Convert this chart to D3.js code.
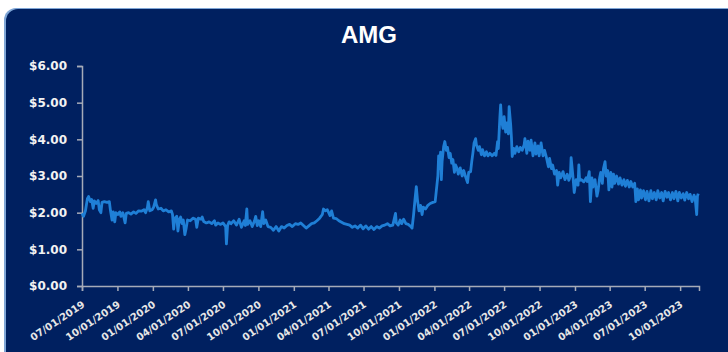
<!DOCTYPE html>
<html><head><meta charset="utf-8">
<script src="https://cdn.jsdelivr.net/npm/d3@7"></script>
<style>
html,body{margin:0;padding:0;background:#fff;}
svg{display:block;}
</style></head>
<body>
<svg id="chart" width="728" height="352"></svg>
<script>
const title = "AMG";
const dates = [
"2019-07-01","2019-07-05","2019-07-10","2019-07-15","2019-07-18","2019-07-23","2019-07-26","2019-07-30",
"2019-08-02","2019-08-07","2019-08-12","2019-08-15","2019-08-19","2019-08-22","2019-08-28",
"2019-09-04","2019-09-10","2019-09-13","2019-09-17","2019-09-20","2019-09-24","2019-09-27",
"2019-10-02","2019-10-07","2019-10-10","2019-10-15","2019-10-21","2019-10-24","2019-10-30",
"2019-11-05","2019-11-12","2019-11-18","2019-11-25",
"2019-12-02","2019-12-09","2019-12-13","2019-12-18","2019-12-20","2019-12-24","2019-12-30",
"2020-01-03","2020-01-08","2020-01-10","2020-01-15","2020-01-22","2020-01-28",
"2020-02-04","2020-02-11","2020-02-18","2020-02-21","2020-02-24","2020-02-27",
"2020-03-03","2020-03-06","2020-03-10","2020-03-13","2020-03-17","2020-03-20","2020-03-24","2020-03-27","2020-03-31",
"2020-04-07","2020-04-14","2020-04-21","2020-04-24","2020-04-28",
"2020-05-05","2020-05-08","2020-05-12","2020-05-19","2020-05-26",
"2020-06-02","2020-06-09","2020-06-12","2020-06-18","2020-06-25",
"2020-07-01","2020-07-08","2020-07-10","2020-07-13","2020-07-17","2020-07-22","2020-07-29",
"2020-08-05","2020-08-12","2020-08-18","2020-08-25","2020-08-28",
"2020-09-01","2020-09-03","2020-09-09","2020-09-15","2020-09-21","2020-09-24","2020-09-28",
"2020-10-02","2020-10-07","2020-10-12","2020-10-15","2020-10-20","2020-10-26",
"2020-11-02","2020-11-09","2020-11-16","2020-11-23","2020-11-30",
"2020-12-07","2020-12-14","2020-12-21","2020-12-28",
"2021-01-05","2021-01-12","2021-01-19","2021-01-26",
"2021-02-02","2021-02-09","2021-02-16","2021-02-23",
"2021-03-02","2021-03-09","2021-03-16","2021-03-19","2021-03-24","2021-03-29",
"2021-04-05","2021-04-09","2021-04-14","2021-04-21","2021-04-28",
"2021-05-05","2021-05-12","2021-05-19","2021-05-26",
"2021-06-02","2021-06-09","2021-06-16","2021-06-23","2021-06-30",
"2021-07-07","2021-07-14","2021-07-21","2021-07-28",
"2021-08-04","2021-08-11","2021-08-18","2021-08-25",
"2021-09-01","2021-09-08","2021-09-15","2021-09-22","2021-09-24","2021-09-29",
"2021-10-04","2021-10-08","2021-10-13","2021-10-19","2021-10-25",
"2021-11-01","2021-11-04","2021-11-08","2021-11-12","2021-11-15","2021-11-18","2021-11-22","2021-11-26","2021-11-30",
"2021-12-03","2021-12-09","2021-12-15","2021-12-21","2021-12-28",
"2022-01-03","2022-01-06","2022-01-10","2022-01-12","2022-01-14","2022-01-17","2022-01-19","2022-01-21","2022-01-25","2022-01-28",
"2022-02-01","2022-02-04","2022-02-08","2022-02-11","2022-02-15","2022-02-18","2022-02-22","2022-02-25",
"2022-03-01","2022-03-04","2022-03-09","2022-03-14","2022-03-18","2022-03-23","2022-03-28","2022-03-31",
"2022-04-05","2022-04-08","2022-04-11","2022-04-14","2022-04-18","2022-04-20","2022-04-25","2022-04-28",
"2022-05-03","2022-05-06","2022-05-11","2022-05-16","2022-05-20","2022-05-25","2022-05-31",
"2022-06-06","2022-06-10","2022-06-14","2022-06-16","2022-06-20","2022-06-22","2022-06-24","2022-06-28",
"2022-07-01","2022-07-05","2022-07-08","2022-07-12","2022-07-14","2022-07-18","2022-07-20","2022-07-22","2022-07-26","2022-07-29",
"2022-08-03","2022-08-08","2022-08-12","2022-08-17","2022-08-22","2022-08-24","2022-08-29",
"2022-09-01","2022-09-06","2022-09-09","2022-09-14","2022-09-19","2022-09-22","2022-09-27","2022-09-30",
"2022-10-05","2022-10-10","2022-10-14","2022-10-19","2022-10-24","2022-10-27",
"2022-11-01","2022-11-04","2022-11-09","2022-11-14","2022-11-17","2022-11-21","2022-11-25",
"2022-12-01","2022-12-06","2022-12-12","2022-12-16","2022-12-20","2022-12-22","2022-12-27","2022-12-30",
"2023-01-04","2023-01-09","2023-01-11","2023-01-13","2023-01-18","2023-01-24","2023-01-30",
"2023-02-02","2023-02-07","2023-02-10","2023-02-14","2023-02-17","2023-02-22","2023-02-27",
"2023-03-02","2023-03-06","2023-03-09","2023-03-13","2023-03-16","2023-03-20","2023-03-23","2023-03-27","2023-03-30",
"2023-04-04","2023-04-07","2023-04-11","2023-04-14","2023-04-19","2023-04-24","2023-04-28",
"2023-05-03","2023-05-08","2023-05-12","2023-05-17","2023-05-22","2023-05-26","2023-05-31",
"2023-06-05","2023-06-08","2023-06-12","2023-06-15","2023-06-20","2023-06-23","2023-06-28",
"2023-07-03","2023-07-07","2023-07-12","2023-07-17","2023-07-21","2023-07-26","2023-07-31",
"2023-08-04","2023-08-09","2023-08-14","2023-08-18","2023-08-23","2023-08-28",
"2023-09-01","2023-09-06","2023-09-11","2023-09-15","2023-09-20","2023-09-25","2023-09-29",
"2023-10-04","2023-10-09","2023-10-13","2023-10-18","2023-10-23","2023-10-27",
"2023-11-01","2023-11-06","2023-11-09","2023-11-13","2023-11-15","2023-11-17"
];
const prices = [
1.98,1.90,2.05,2.38,2.44,2.30,2.36,2.12,
2.32,2.25,2.33,2.08,2.00,2.28,2.30,
2.28,2.30,2.05,1.80,2.02,1.75,2.00,
1.95,2.02,1.90,2.00,1.72,1.98,2.00,
1.96,2.02,1.98,2.05,
2.04,2.08,2.00,2.15,2.30,2.05,2.08,
2.15,2.35,2.22,2.10,2.12,2.05,
2.08,2.02,2.05,1.95,1.55,1.85,
1.90,1.50,1.82,1.88,1.70,1.80,1.40,1.55,1.80,
1.78,1.85,1.82,1.60,1.85,
1.82,1.88,1.76,1.72,1.75,
1.70,1.78,1.66,1.72,1.68,
1.72,1.62,1.15,1.65,1.75,1.70,1.78,
1.66,1.82,1.60,1.78,1.65,
2.10,1.68,1.78,1.62,1.78,1.90,1.65,
1.78,1.62,2.03,1.70,1.80,1.62,
1.60,1.52,1.62,1.50,1.62,
1.58,1.65,1.68,1.62,
1.70,1.68,1.72,1.65,
1.58,1.64,1.70,1.72,
1.78,1.85,1.95,2.10,2.05,2.08,
1.92,2.05,1.85,1.84,1.78,
1.74,1.70,1.68,1.66,
1.60,1.64,1.58,1.66,1.56,
1.64,1.55,1.62,1.54,
1.62,1.58,1.64,1.66,
1.70,1.64,1.66,1.98,1.72,1.66,
1.80,1.70,1.82,1.70,1.68,
1.62,1.58,1.95,2.40,2.71,2.35,2.05,2.20,1.95,
2.15,2.10,2.20,2.25,2.28,
2.30,2.60,3.00,3.55,3.20,3.65,2.90,3.40,3.80,3.94,
3.70,3.78,3.50,3.62,3.35,3.45,3.10,3.30,
3.20,3.05,3.22,3.00,3.15,2.98,2.82,3.10,
3.12,3.40,3.63,3.90,4.02,3.85,3.70,3.80,
3.58,3.72,3.55,3.66,3.55,3.62,3.55,
3.62,3.56,3.94,3.75,4.60,4.94,4.55,4.30,
4.62,4.20,4.45,4.15,4.89,4.40,4.05,3.53,3.75,3.62,
3.80,3.66,3.78,3.70,3.85,4.02,3.62,
3.95,3.70,3.98,3.55,3.90,3.60,3.82,3.55,
3.90,3.55,3.70,3.50,3.25,3.48,
3.20,3.30,3.05,3.15,2.75,3.10,2.95,
3.12,2.90,3.05,2.88,3.00,3.50,2.95,2.55,
2.90,2.75,3.30,2.88,2.90,2.84,2.95,
2.85,3.12,2.30,2.95,2.70,2.90,2.45,
2.60,2.95,3.10,2.80,3.20,3.39,3.00,3.15,2.62,
3.10,2.70,3.05,2.80,3.00,2.78,2.95,
2.75,2.90,2.72,2.88,2.70,2.85,2.70,
2.80,2.30,2.65,2.35,2.62,2.40,2.60,
2.35,2.58,2.32,2.60,2.38,2.55,2.35,
2.60,2.40,2.55,2.32,2.58,2.42,
2.55,2.35,2.55,2.38,2.58,2.32,2.55,
2.40,2.52,2.34,2.55,2.38,2.50,
2.30,2.48,2.40,1.95,2.45,2.52
];
const yTicks = [0,1,2,3,4,5,6];
const xTickDates = ["2019-07-01","2019-10-01","2020-01-01","2020-04-01","2020-07-01","2020-10-01",
"2021-01-01","2021-04-01","2021-07-01","2021-10-01","2022-01-01","2022-04-01","2022-07-01",
"2022-10-01","2023-01-01","2023-04-01","2023-07-01","2023-10-01"];
const xDomain = ["2019-07-01","2023-11-19"];

const parse = d3.timeParse("%Y-%m-%d");
const data = dates.map((d,i)=>({date:parse(d), v:prices[i]}));

const svg = d3.select("#chart");
const navy = "#002060";

// card background
svg.append("rect").attr("x",4).attr("y",8).attr("width",736).attr("height",356)
  .attr("rx",12).attr("ry",12).attr("fill","#7fa6d6");
svg.append("rect").attr("x",6).attr("y",9).attr("width",734).attr("height",355)
  .attr("rx",12).attr("ry",12).attr("fill",navy);

const x = d3.scaleTime().domain(xDomain.map(parse)).range([82,699]);
const y = d3.scaleLinear().domain([0,6]).range([286,66]);

svg.append("text").attr("x",369).attr("y",43).attr("text-anchor","middle")
  .attr("fill","#fff").attr("font-family","Liberation Sans, Arial, sans-serif")
  .attr("font-weight","bold").attr("font-size",24).text(title);

const axisColor = "#a6abb8";
const yAxis = svg.append("g").attr("transform","translate(82,0)")
  .call(d3.axisLeft(y).tickValues(yTicks).tickSize(5).tickPadding(10).tickFormat(d=>"$"+d3.format(".2f")(d)));
const xAxis = svg.append("g").attr("transform","translate(0,286)")
  .call(d3.axisBottom(x).tickValues(xTickDates.map(parse)).tickSize(5).tickFormat(d3.timeFormat("%m/%d/%Y")));

[yAxis,xAxis].forEach(g=>{
  g.select(".domain").attr("stroke",axisColor).attr("stroke-width",1.5);
  g.selectAll(".tick line").attr("stroke",axisColor).attr("stroke-width",1.5);
});
yAxis.selectAll(".tick text").attr("fill","#f2f2f2").attr("font-family","DejaVu Sans, sans-serif")
  .attr("font-weight","bold").attr("font-size",12);
xAxis.selectAll(".tick text").attr("fill","#e6e6e6").attr("font-family","DejaVu Sans, sans-serif")
  .attr("font-weight","bold").attr("font-size",10)
  .attr("text-anchor","end").attr("dy",null).attr("y",0)
  .attr("transform","translate(3,20) rotate(-34)");

const line = d3.line().x(d=>x(d.date)).y(d=>y(d.v));
svg.append("path").datum(data).attr("d",line).attr("fill","none")
  .attr("stroke","#1f7fd6").attr("stroke-width",2.8).attr("stroke-linejoin","round");
</script>
</body></html>
